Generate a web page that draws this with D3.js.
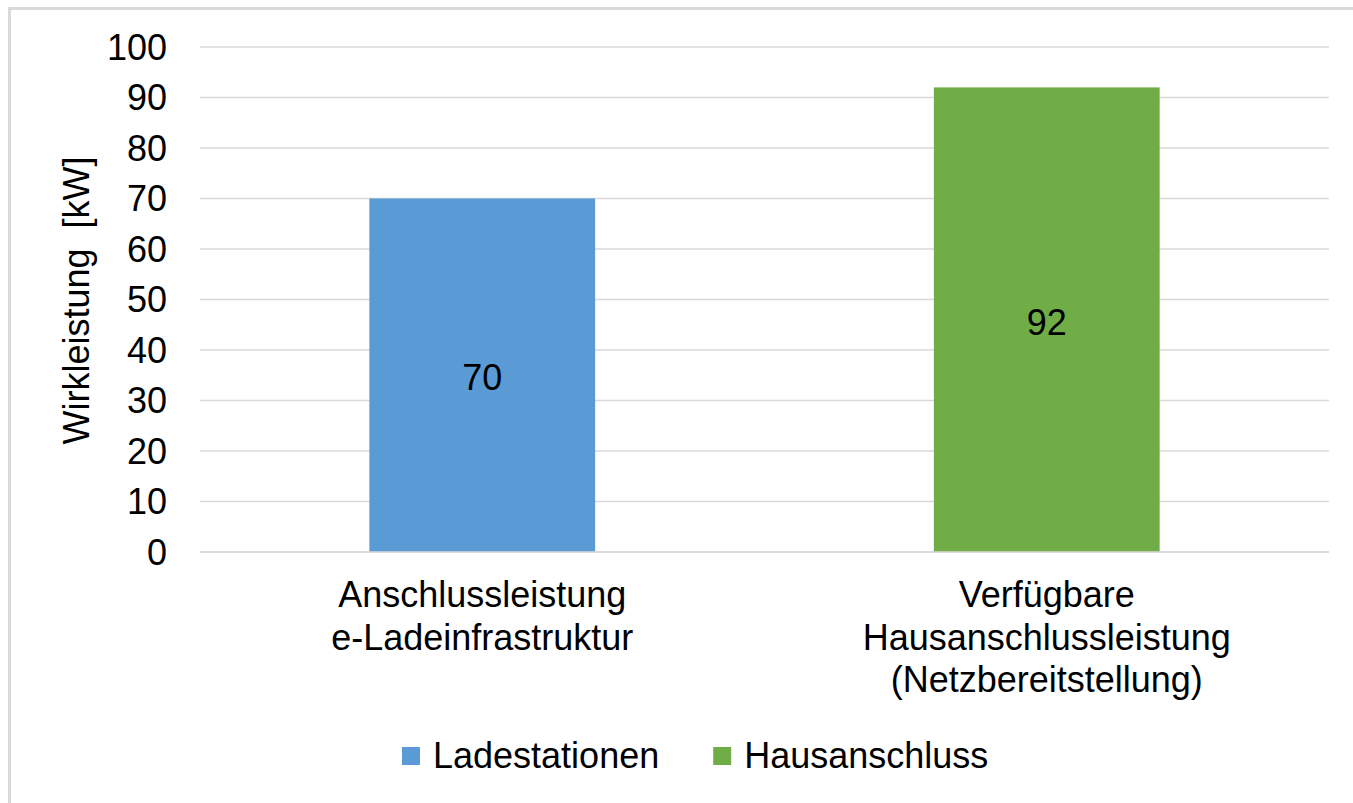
<!DOCTYPE html>
<html>
<head>
<meta charset="utf-8">
<script src="https://cdn.jsdelivr.net/npm/d3@7"></script>
<style>
  body { margin: 0; background: #fff; }
  svg text { font-family: "Liberation Sans", Arial, sans-serif; fill: #000; }
</style>
</head>
<body>
<svg id="chart" width="1353" height="803"></svg>
<script>
// Daten
const categories = [
  ['Anschlussleistung', 'e-Ladeinfrastruktur'],
  ['Verfügbare', 'Hausanschlussleistung', '(Netzbereitstellung)']
]
const seriesNames = ['Ladestationen', 'Hausanschluss']
const values = [70, 92]
const colors = ['#5b9bd5', '#70ad47']
const yTicks = [0, 10, 20, 30, 40, 50, 60, 70, 80, 90, 100]
const yTitle = 'Wirkleistung\u00a0\u00a0[kW]'

const svg = d3.select('#chart')
const fontSize = 36

// chart frame (rechts/unten angeschnitten)
svg.append('rect')
  .attr('x', 9.5).attr('y', 8.5)
  .attr('width', 1400).attr('height', 900)
  .attr('fill', '#fff')
  .attr('stroke', '#d9d9d9')
  .attr('stroke-width', 3)

const plot = { left: 200, right: 1329, top: 47, bottom: 552 }

const x = d3.scaleBand()
  .domain(d3.range(values.length))
  .range([plot.left, plot.right])
  .paddingInner(0.6)
  .paddingOuter(0.3)

const y = d3.scaleLinear()
  .domain([0, 100])
  .range([plot.bottom, plot.top])

// gridlines
svg.append('g')
  .selectAll('line')
  .data(yTicks)
  .enter()
  .append('line')
  .attr('x1', plot.left)
  .attr('x2', plot.right)
  .attr('y1', d => y(d))
  .attr('y2', d => y(d))
  .attr('stroke', '#d9d9d9')
  .attr('stroke-width', 1.5)

// y tick labels
svg.append('g')
  .selectAll('text')
  .data(yTicks)
  .enter()
  .append('text')
  .attr('x', 167)
  .attr('y', d => y(d))
  .attr('dy', '0.36em')
  .attr('text-anchor', 'end')
  .style('font-size', fontSize + 'px')
  .text(d => d)

// y axis title
svg.append('text')
  .attr('transform', 'translate(89,' + ((plot.top + plot.bottom) / 2 + 1) + ') rotate(-90)')
  .attr('text-anchor', 'middle')
  .style('font-size', fontSize + 'px')
  .text(yTitle)

// bars
svg.append('g')
  .selectAll('rect')
  .data(values)
  .enter()
  .append('rect')
  .attr('x', (d, i) => x(i))
  .attr('width', x.bandwidth())
  .attr('y', d => y(d))
  .attr('height', d => y(0) - y(d))
  .attr('fill', (d, i) => colors[i])

// gridline at 0 above bars
svg.append('line')
  .attr('x1', plot.left).attr('x2', plot.right)
  .attr('y1', y(0)).attr('y2', y(0))
  .attr('stroke', '#d9d9d9')
  .attr('stroke-width', 1.5)

// data labels
svg.append('g')
  .selectAll('text')
  .data(values)
  .enter()
  .append('text')
  .attr('x', (d, i) => x(i) + x.bandwidth() / 2)
  .attr('y', d => (y(d) + y(0)) / 2 + 2)
  .attr('dy', '0.36em')
  .attr('text-anchor', 'middle')
  .style('font-size', fontSize + 'px')
  .text(d => d)

// category labels
categories.forEach((lines, i) => {
  const t = svg.append('text')
    .attr('text-anchor', 'middle')
    .style('font-size', fontSize + 'px')
  lines.forEach((line, j) => {
    t.append('tspan')
      .attr('x', x(i) + x.bandwidth() / 2)
      .attr('y', 607 + j * 42.5)
      .text(line)
  })
})

// legend
const legend = svg.append('g')
let lx = 402
seriesNames.forEach((name, i) => {
  legend.append('rect')
    .attr('x', lx).attr('y', 747)
    .attr('width', 18).attr('height', 18)
    .attr('fill', colors[i])
  const t = legend.append('text')
    .attr('x', lx + 31)
    .attr('y', 768)
    .style('font-size', fontSize + 'px')
    .text(name)
  lx = lx + 31 + t.node().getComputedTextLength() + 54
})
</script>
</body>
</html>
